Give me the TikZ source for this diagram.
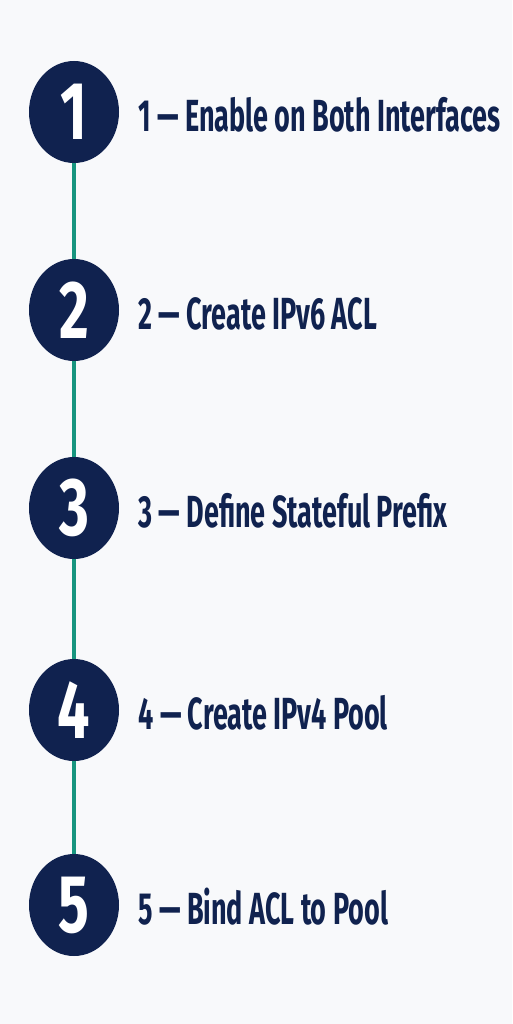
\documentclass[tikz,border=0pt]{standalone}
\usepackage{fontspec}
\setmainfont[FakeStretch=0.60]{Fira Sans}
\newfontfamily\numfont[FakeStretch=0.70]{Fira Sans}
\usepackage{xcolor}
\usetikzlibrary{positioning,shapes.geometric}

\definecolor{navy}{HTML}{10224F}
\definecolor{teal}{HTML}{17957F}
\definecolor{paper}{HTML}{F8F9FB}

\tikzset{
  stepdot/.style={ellipse, fill=navy, minimum width=90pt, minimum height=102pt, inner sep=0pt,
    font=\numfont\bfseries\fontsize{82}{82}\selectfont, text=white},
  steplabel/.style={anchor=west, inner sep=0pt, text=navy, text height=31pt, text depth=0pt,
    font=\bfseries\fontsize{45}{45}\selectfont},
  link/.style={teal, line width=3.5pt}
}

\begin{document}
\begin{tikzpicture}[x=1pt, y=1pt]
    \fill[paper] (0, 0) rectangle (512, -1024);
    \useasboundingbox (0, 0) rectangle (512, -1024);

    \foreach [count=\i] \y/\txt in {-112/Enable on Both Interfaces, -310/Create IPv6 ACL,
        -508/Define Stateful Prefix, -710/Create IPv4 Pool, -905/Bind ACL to Pool} {
      \node[stepdot] (s\i) at (74, \y) {\i};
      \node[steplabel, right=19pt of s\i, yshift=-4pt] (t\i) {\i\ --- \txt};
    }

    \foreach \i [evaluate=\i as \j using int(\i+1)] in {1,...,4} {
      \draw[link] (s\i.south) -- (s\j.north);
    }
  \end{tikzpicture}
\end{document}
